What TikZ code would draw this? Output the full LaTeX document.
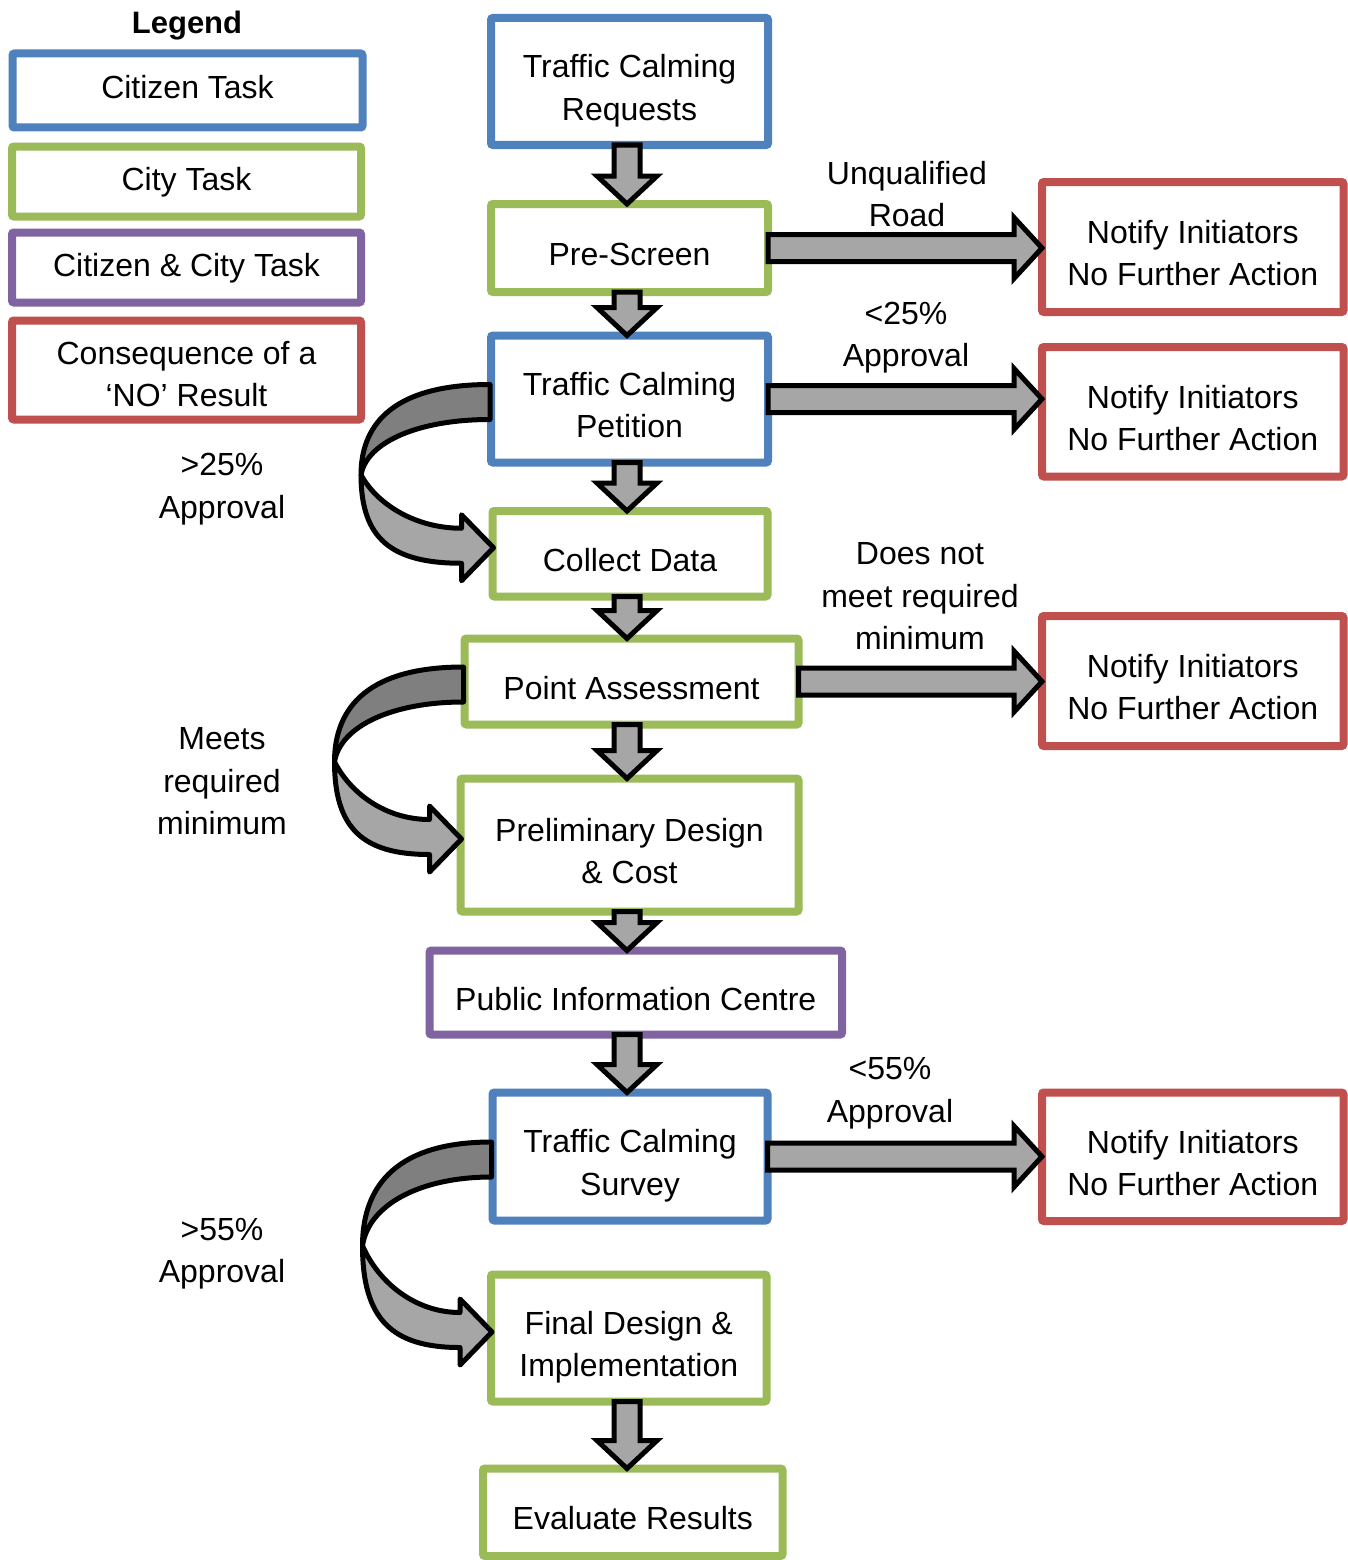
\documentclass[tikz,border=0pt]{standalone}
\usepackage{fontspec}
\setmainfont{Liberation Sans}
\usetikzlibrary{calc}
\definecolor{cblue}{HTML}{4F81BD}
\definecolor{cgreen}{HTML}{9BBB59}
\definecolor{cpurple}{HTML}{8064A2}
\definecolor{cred}{HTML}{C0504D}
\definecolor{arrlight}{HTML}{A6A6A6}
\definecolor{arrdark}{HTML}{7F7F7F}
\newcommand{\bodyfont}{\fontsize{32pt}{42.5pt}\selectfont}
\newcommand{\hs}[1][42]{\rule{0pt}{#1pt}}
\newcommand{\ds}{\rule[-7pt]{0pt}{7pt}}
\newcommand{\flowdown}[2]{%
  \draw[blockarr] let \p0=(spine), \p1=(#1.south), \p2=(#2.north) in
    ({\x0-13pt},{\y1}) -- ({\x0-13pt},{\y2+28pt}) -- ({\x0-30pt},{\y2+28pt})
    -- ({\x0},{\y2}) -- ({\x0+30pt},{\y2+28pt}) -- ({\x0+13pt},{\y2+28pt})
    -- ({\x0+13pt},{\y1}) -- cycle;}
\newcommand{\flowright}[2]{%
  \draw[blockarr] let \p1=(#1.east), \p2=(#2.west) in
    ({\x1},{\y1+13.5pt}) -- ({\x2-28pt},{\y1+13.5pt}) -- ({\x2-28pt},{\y1+30.5pt})
    -- ({\x2},{\y1}) -- ({\x2-28pt},{\y1-30.5pt}) -- ({\x2-28pt},{\y1-13.5pt})
    -- ({\x1},{\y1-13.5pt}) -- cycle;}
\newcommand{\flowcurve}[2]{%
  \draw[curvlight] let \p1=(#1.west), \p2=(#2.west),
      \p3=({\x1-1pt},{\y1-3pt}),
      \p4=({\x2+1pt},{\y2+6pt}),
      \p5=({\x3-129pt},{(\y3+\y4)/2}),
      \p6=({\x4-32pt},{\y4+2pt}) in
    (\p5) .. controls ({\x5},{\y5-0.72*(\y5-\y6+17.5pt)}) and ({\x5+0.3*(\x6-\x5)},{\y6-17.5pt}) .. ({\x6},{\y6-17.5pt})
    -- ({\x6},{\y4-33pt}) -- (\p4) -- ({\x6},{\y4+33pt}) -- ({\x6},{\y6+17.5pt})
    .. controls ({\x6-0.46*(\x6-\x5)},{\y6+17.5pt}) and ({\x5+16pt},{\y5-0.55*(\y5-\y6-17.5pt)}) .. (\p5) -- cycle;
  \draw[curvdark] let \p1=(#1.west), \p2=(#2.west),
      \p3=({\x1-1pt},{\y1-3pt}),
      \p4=({\x2+1pt},{\y2+6pt}),
      \p5=({\x3-129pt},{(\y3+\y4)/2}) in
    ({\x3},{\y3+17.5pt}) .. controls ({\x3-0.8*(\x3-\x5)},{\y3+17.5pt}) and ({\x5},{\y3+17.5pt-0.5*(\y3+17.5pt-\y5)}) .. (\p5)
    .. controls ({\x5+6pt},{\y5+0.6*(\y3-17.5pt-\y5)}) and ({\x3-0.55*(\x3-\x5)},{\y3-17.5pt}) .. ({\x3},{\y3-17.5pt}) -- cycle;}
\begin{document}
\begin{tikzpicture}[x=1pt,y=-1pt,
  box/.style={draw=#1, line width=8pt, rounded corners=2pt, fill=white,
    outer sep=0pt, inner sep=0pt, align=center, font=\bodyfont},
  lbl/.style={align=center, inner sep=0pt, font=\bodyfont},
  blockarr/.style={draw=black, line width=5pt, fill=arrlight, line join=miter},
  curvlight/.style={draw=black, line width=5pt, fill=arrlight, line join=round},
  curvdark/.style={draw=black, line width=5pt, fill=arrdark, line join=round}]
\useasboundingbox[fill=white] (0,0) rectangle (1348,1560);
\coordinate (spine) at (627,0);

% legend
\node[lbl, font=\fontsize{31pt}{40pt}\selectfont\bfseries] (leg) at (187,25) {\hs[24]Legend\ds};
\node[box=cblue, minimum width=350pt, minimum height=74pt] (l1) at (187.5,90.5) {\hs[24]Citizen Task\ds};
\node[box=cgreen, minimum width=349pt, minimum height=70pt] (l2) at (186.5,181.5) {\hs[24]City Task\ds};
\node[box=cpurple, minimum width=349pt, minimum height=70pt] (l3) at (186.5,267.5) {\hs[24]Citizen \& City Task\ds};
\node[box=cred, minimum width=349pt, minimum height=99pt] (l4) at (186.5,370) {\hs[38]Consequence of a\\‘NO’ Result\ds};

% main flow
\node[box=cblue, minimum width=277pt, minimum height=127pt] (req) at (629.5,81.5) {\hs Traffic Calming\\Requests\ds};
\node[box=cgreen, minimum width=277pt, minimum height=88pt] (pre) at (629.5,248) {\hs Pre-Screen\ds};
\node[box=cblue, minimum width=277pt, minimum height=127pt] (pet) at (629.5,399) {\hs Traffic Calming\\Petition\ds};
\node[box=cgreen, minimum width=275pt, minimum height=85.5pt] (col) at (630,553.75) {\hs Collect Data\ds};
\node[box=cgreen, minimum width=334pt, minimum height=86pt] (pnt) at (631.5,681.5) {\hs Point Assessment\ds};
\node[box=cgreen, minimum width=338pt, minimum height=133pt] (pd) at (629.5,845) {\hs Preliminary Design\\\& Cost\ds};
\node[box=cpurple, minimum width=412.5pt, minimum height=84pt] (pic) at (635.75,992.5) {\hs Public Information Centre\ds};
\node[box=cblue, minimum width=275pt, minimum height=128pt] (sur) at (630,1156.5) {\hs Traffic Calming\\Survey\ds};
\node[box=cgreen, minimum width=275.5pt, minimum height=127pt] (fin) at (628.75,1338) {\hs Final Design \&\\Implementation\ds};
\node[box=cgreen, minimum width=299.5pt, minimum height=87.5pt] (eva) at (632.75,1512.25) {\hs Evaluate Results\ds};

% notify boxes
\node[box=cred, minimum width=301.5pt, minimum height=130pt] (n1) at (1192.75,247) {\hs Notify Initiators\\No Further Action\ds};
\node[box=cred, minimum width=301.5pt, minimum height=129.5pt] (n2) at (1192.75,411.75) {\hs Notify Initiators\\No Further Action\ds};
\node[box=cred, minimum width=301.5pt, minimum height=130pt] (n3) at (1192.75,681) {\hs Notify Initiators\\No Further Action\ds};
\node[box=cred, minimum width=301.5pt, minimum height=128.5pt] (n4) at (1192.75,1156.75) {\hs Notify Initiators\\No Further Action\ds};

% labels
\node[lbl] (t1) at (907,197) {\hs[24]Unqualified\\Road\ds};
\node[lbl] (t2) at (906,337) {\hs[24]<25\%\\Approval\ds};
\node[lbl] (t3) at (222,488.5) {\hs[24]>25\%\\Approval\ds};
\node[lbl] (t4) at (920,598.5) {\hs[24]Does not\\meet required\\minimum\ds};
\node[lbl] (t5) at (222,783.5) {\hs[24]Meets\\required\\minimum\ds};
\node[lbl] (t6) at (890,1092.5) {\hs[24]<55\%\\Approval\ds};
\node[lbl] (t7) at (222,1253) {\hs[24]>55\%\\Approval\ds};

% straight arrows
\flowdown{req}{pre}
\flowdown{pre}{pet}
\flowdown{pet}{col}
\flowdown{col}{pnt}
\flowdown{pnt}{pd}
\flowdown{pd}{pic}
\flowdown{pic}{sur}
\flowdown{fin}{eva}
\flowright{pre}{n1}
\flowright{pet}{n2}
\flowright{pnt}{n3}
\flowright{sur}{n4}

% curved arrows
\flowcurve{pet}{col}
\flowcurve{pnt}{pd}
\flowcurve{sur}{fin}
\end{tikzpicture}
\end{document}
